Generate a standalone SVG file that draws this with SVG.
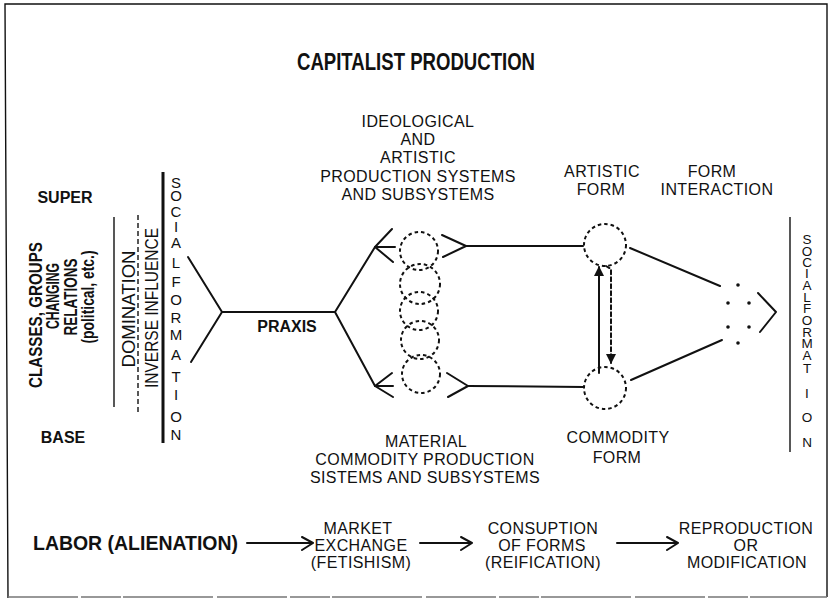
<svg xmlns="http://www.w3.org/2000/svg" width="831" height="607" viewBox="0 0 831 607">
<style>
  text { font-family: "Liberation Sans", Arial, sans-serif; fill: #111; }
  .b { font-weight: bold; }
  .t16 { font-size: 16px; letter-spacing: 0.4px; }
  .sf { font-size: 15px; text-anchor: middle; }
  .sfr { font-size: 13.5px; text-anchor: middle; }
  .m { text-anchor: middle; }
  .ln { stroke: #111; stroke-width: 2; fill: none; stroke-linecap: round; stroke-linejoin: round; }
  .thin { stroke: #111; stroke-width: 1.4; fill: none; }
  .dc { stroke: #111; stroke-width: 2; fill: none; stroke-dasharray: 3.5 3; }
  .dot { fill: #111; }
</style>
<defs>
  <marker id="tri" viewBox="0 0 10 10" refX="9" refY="5" markerWidth="5" markerHeight="5" orient="auto" markerUnits="strokeWidth">
    <path d="M0,0 L10,5 L0,10 z" fill="#111"/>
  </marker>
</defs>

<rect width="831" height="607" fill="#fff"/>
<path d="M8,598 L5,4 L827,4 L827,597" class="thin" stroke-width="1.6"/>
<path d="M8,597 L827,597" stroke="#777" stroke-width="1.5" fill="none" stroke-dasharray="70 3 40 2 90 4"/>

<g id="title">
  <text class="b m" x="416" y="70" font-size="23" textLength="238" lengthAdjust="spacingAndGlyphs">CAPITALIST PRODUCTION</text>
</g>

<g id="super-base">
  <text class="b m" x="65" y="203" font-size="16">SUPER</text>
  <text class="b m" x="63" y="443" font-size="16">BASE</text>
</g>

<g id="classes">
  <text class="b m" font-size="19" transform="translate(42,315) rotate(-90)" textLength="146" lengthAdjust="spacingAndGlyphs">CLASSES, GROUPS</text>
  <text class="b m" font-size="19" transform="translate(59,296) rotate(-90)" textLength="66" lengthAdjust="spacingAndGlyphs">CHANGING</text>
  <text class="b m" font-size="19" transform="translate(77,297) rotate(-90)" textLength="77" lengthAdjust="spacingAndGlyphs">RELATIONS</text>
  <text class="b m" font-size="18" transform="translate(94,297) rotate(-90)" textLength="93" lengthAdjust="spacingAndGlyphs">(political, etc.)</text>
</g>

<g id="domination">
  <line x1="114" y1="217" x2="114" y2="407" class="thin" stroke-width="1.6"/>
  <line x1="138" y1="215" x2="138" y2="412" class="thin" stroke-width="1.4" stroke-dasharray="5 3"/>
  <text class="m" font-size="17.5" transform="translate(135,309) rotate(-90)" textLength="117" lengthAdjust="spacingAndGlyphs">DOMINATION</text>
  <text class="m" font-size="17.5" transform="translate(158,308) rotate(-90)" textLength="160" lengthAdjust="spacingAndGlyphs">INVERSE INFLUENCE</text>
</g>

<g id="social-formation-left">
  <line x1="163" y1="172" x2="163" y2="443" stroke="#111" stroke-width="3"/>
  <text class="sf" x="176 176 176 176 176 176 176 176 176 176 176 176 176 176 176" y="188 201 217 232 248 268 287 305 323 340 360 382 400 422 440">SOCIALFORMATION</text>
</g>

<g id="praxis">
  <text class="b m" x="287" y="332" font-size="16">PRAXIS</text>
</g>

<g id="ideological">
  <text class="t16 m" x="418" y="127">IDEOLOGICAL</text>
  <text class="t16 m" x="418" y="145">AND</text>
  <text class="t16 m" x="418" y="163">ARTISTIC</text>
  <text class="t16 m" x="418" y="182">PRODUCTION SYSTEMS</text>
  <text class="t16 m" x="418" y="200">AND SUBSYSTEMS</text>
</g>

<g id="systems-circles">
  <circle cx="419" cy="251" r="19" class="dc"/>
  <circle cx="420" cy="284" r="20" class="dc"/>
  <circle cx="419" cy="311" r="19" class="dc"/>
  <circle cx="420" cy="340" r="19" class="dc"/>
  <circle cx="421" cy="374" r="19" class="dc"/>
</g>

<g id="material">
  <text class="t16 m" x="426" y="447">MATERIAL</text>
  <text class="t16 m" x="425" y="465">COMMODITY PRODUCTION</text>
  <text class="t16 m" x="425" y="483">SISTEMS AND SUBSYSTEMS</text>
</g>

<g id="artistic-form">
  <circle cx="605" cy="245" r="21" class="dc"/>
  <text class="t16 m" x="602" y="177">ARTISTIC</text>
  <text class="t16 m" x="601" y="195">FORM</text>
</g>

<g id="commodity-form">
  <circle cx="605" cy="388" r="21" class="dc"/>
  <text class="t16 m" x="618" y="443">COMMODITY</text>
  <text class="t16 m" x="617" y="463">FORM</text>
</g>

<g id="form-interaction">
  <text class="t16 m" x="712" y="177">FORM</text>
  <text class="t16 m" x="717" y="195">INTERACTION</text>
  <circle cx="738" cy="285" r="1.8" class="dot"/>
  <circle cx="728" cy="303" r="1.8" class="dot"/>
  <circle cx="749" cy="303" r="1.8" class="dot"/>
  <circle cx="728" cy="327" r="1.8" class="dot"/>
  <circle cx="749" cy="327" r="1.8" class="dot"/>
  <circle cx="738" cy="343" r="1.8" class="dot"/>
  <path d="M758,293 L776,312 L760,332" class="ln"/>
</g>

<g id="social-formation-right">
  <line x1="790" y1="217" x2="790" y2="452" class="thin" stroke-width="1.3"/>
  <text class="sfr" x="807 807 807 807 807 807 807 807 807 807 807 807 807 807 807" y="244 256 267 278 290 302 313 325 337 348 360 373 398 422 447">SOCIALFORMATION</text>
</g>

<g id="chain-labor">
  <text class="b" x="33" y="550" font-size="19.5" textLength="205" lengthAdjust="spacingAndGlyphs">LABOR (ALIENATION)</text>
</g>
<g id="chain-market">
  <text class="t16 m" x="358" y="534">MARKET</text>
  <text class="t16 m" x="361" y="551">EXCHANGE</text>
  <text class="t16 m" x="361" y="568">(FETISHISM)</text>
</g>
<g id="chain-consumption">
  <text class="t16 m" x="543" y="534">CONSUPTION</text>
  <text class="t16 m" x="542" y="551">OF FORMS</text>
  <text class="t16 m" x="543" y="568">(REIFICATION)</text>
</g>
<g id="chain-reproduction">
  <text class="t16 m" x="746" y="534">REPRODUCTION</text>
  <text class="t16 m" x="746" y="551">OR</text>
  <text class="t16 m" x="747" y="568">MODIFICATION</text>
</g>

<g id="connectors">
  <path d="M188,257 L222,312 L191,362" class="ln"/>
  <line x1="222" y1="312" x2="335" y2="312" class="ln"/>
  <path d="M375,247 L335,312 L375,386" class="ln"/>
  <path d="M392,229 L375,247 L393,262 M375,247 L395,247" class="ln"/>
  <path d="M392,373 L375,386 L393,397 M375,386 L393,386" class="ln"/>
  <path d="M442,235 L466,246 L443,257" class="ln"/>
  <line x1="466" y1="246" x2="583" y2="246" class="ln"/>
  <path d="M447,373 L468,386 L448,397" class="ln"/>
  <line x1="468" y1="386" x2="584" y2="387" class="ln"/>
  <line x1="599" y1="373" x2="599" y2="267" class="ln" stroke-width="1.8" marker-end="url(#tri)"/>
  <path d="M606,266 L611,269 L611,363" class="ln" stroke-width="1.8" stroke-dasharray="4 3" marker-end="url(#tri)"/>
  <line x1="630" y1="248" x2="720" y2="286" class="ln"/>
  <line x1="631" y1="380" x2="722" y2="340" class="ln"/>
  <path d="M247,543 L312,543 M302,537 L313,543 L302,550" class="ln"/>
  <path d="M420,543 L471,543 M461,537 L472,543 L461,550" class="ln"/>
  <path d="M617,543 L677,543 M667,537 L678,543 L667,550" class="ln"/>
</g>
</svg>
